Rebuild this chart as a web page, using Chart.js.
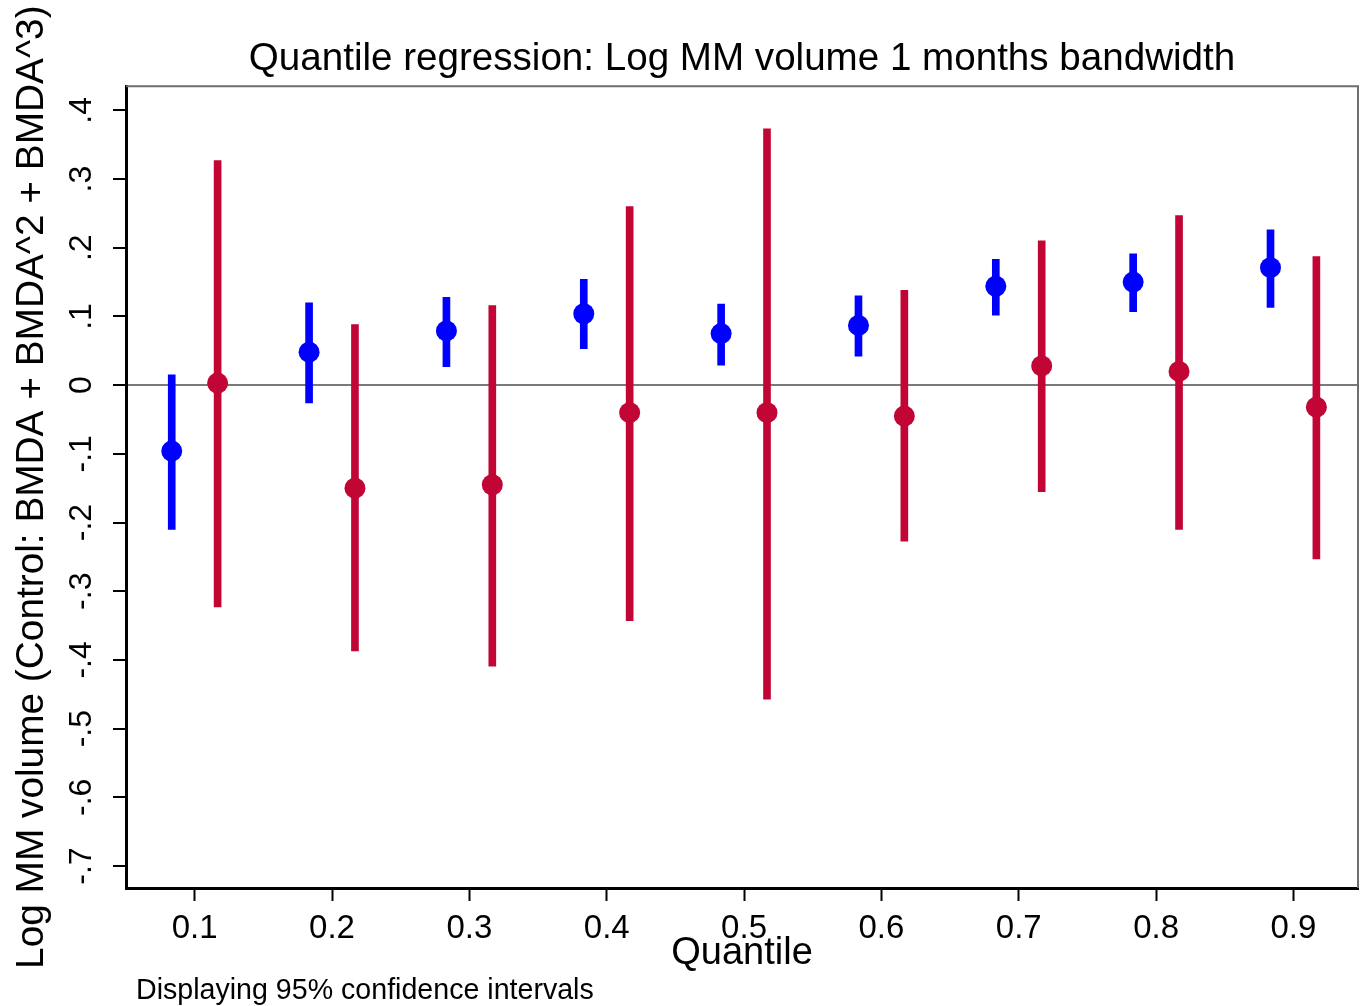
<!DOCTYPE html>
<html>
<head>
<meta charset="utf-8">
<script src="https://cdn.jsdelivr.net/npm/chart.js@4.4.1/dist/chart.umd.min.js"></script>
<style>
  html, body { margin: 0; padding: 0; background: #ffffff; }
  #wrap { width: 1361px; height: 1006px; position: relative; background: #ffffff; }
</style>
</head>
<body>
<div id="wrap"><canvas id="chart" width="1361" height="1006"></canvas></div>
<script>
// ---- Data ----
const quantiles = [0.1, 0.2, 0.3, 0.4, 0.5, 0.6, 0.7, 0.8, 0.9];

const blueEstimate = [-0.096, 0.048, 0.079, 0.104, 0.075, 0.087, 0.144, 0.150, 0.171];
const blueLower    = [-0.210, -0.026, 0.027, 0.053, 0.029, 0.042, 0.102, 0.107, 0.113];
const blueUpper    = [0.015, 0.120, 0.128, 0.154, 0.118, 0.130, 0.183, 0.191, 0.226];

const redEstimate = [0.003, -0.150, -0.145, -0.040, -0.040, -0.045, 0.028, 0.020, -0.032];
const redLower    = [-0.323, -0.387, -0.409, -0.343, -0.457, -0.227, -0.155, -0.210, -0.253];
const redUpper    = [0.327, 0.088, 0.116, 0.260, 0.373, 0.138, 0.210, 0.247, 0.187];

const xTickValues = [0.1, 0.2, 0.3, 0.4, 0.5, 0.6, 0.7, 0.8, 0.9];
const xTickLabels = ['0.1', '0.2', '0.3', '0.4', '0.5', '0.6', '0.7', '0.8', '0.9'];
const yTickValues = [-0.7, -0.6, -0.5, -0.4, -0.3, -0.2, -0.1, 0, 0.1, 0.2, 0.3, 0.4];
const yTickLabels = ['-.7', '-.6', '-.5', '-.4', '-.3', '-.2', '-.1', '0', '.1', '.2', '.3', '.4'];

const chartTitle = 'Quantile regression: Log MM volume 1 months bandwidth';
const xAxisTitle = 'Quantile';
const yAxisTitle = 'Log MM volume (Control: BMDA + BMDA^2 + BMDA^3)';
const footnote = 'Displaying 95% confidence intervals';

// ---- Styles ----
const FONT = '"Liberation Sans", Arial, Helvetica, sans-serif';
const BLUE = '#0000ff';
const RED = '#c10535';
const SERIES_OFFSET = 0.0167;

Chart.defaults.font.family = FONT;
Chart.defaults.color = '#000000';

const blueX = quantiles.map(q => q - SERIES_OFFSET);
const redX = quantiles.map(q => q + SERIES_OFFSET);

const framePlugin = {
  id: 'frame',
  beforeDatasetsDraw(chart) {
    const { ctx, chartArea: a } = chart;
    ctx.save();
    ctx.strokeStyle = '#6e6e6e';
    ctx.lineWidth = 2;
    ctx.beginPath();
    ctx.moveTo(a.left, a.top);
    ctx.lineTo(a.right, a.top);
    ctx.lineTo(a.right, a.bottom);
    ctx.stroke();
    ctx.restore();
  }
};

const extraTextPlugin = {
  id: 'extraText',
  afterDraw(chart) {
    const { ctx, chartArea: a } = chart;
    ctx.save();
    ctx.fillStyle = '#000000';
    // y-axis title (rotated)
    ctx.font = '38.8px ' + FONT;
    ctx.translate(32, (a.top + a.bottom) / 2);
    ctx.rotate(-Math.PI / 2);
    ctx.textAlign = 'center';
    ctx.textBaseline = 'middle';
    ctx.fillText(yAxisTitle, 0, 0);
    ctx.restore();
    // footnote
    ctx.save();
    ctx.fillStyle = '#000000';
    ctx.font = '28.6px ' + FONT;
    ctx.textAlign = 'left';
    ctx.textBaseline = 'alphabetic';
    ctx.fillText(footnote, 136, 999);
    ctx.restore();
  }
};

new Chart(document.getElementById('chart'), {
  type: 'bar',
  data: {
    datasets: [
      {
        type: 'scatter',
        label: 'Blue estimate',
        data: blueX.map((x, i) => ({ x: x, y: blueEstimate[i] })),
        backgroundColor: BLUE,
        borderColor: BLUE,
        pointRadius: 10.5,
        pointBorderWidth: 0,
        order: 0
      },
      {
        type: 'scatter',
        label: 'Red estimate',
        data: redX.map((x, i) => ({ x: x, y: redEstimate[i] })),
        backgroundColor: RED,
        borderColor: RED,
        pointRadius: 10.5,
        pointBorderWidth: 0,
        order: 0
      },
      {
        type: 'bar',
        label: 'Blue 95% CI',
        data: blueX.map((x, i) => ({ x: x, y: [blueLower[i], blueUpper[i]] })),
        backgroundColor: BLUE,
        borderWidth: 0,
        barThickness: 7,
        grouped: false,
        order: 1
      },
      {
        type: 'bar',
        label: 'Red 95% CI',
        data: redX.map((x, i) => ({ x: x, y: [redLower[i], redUpper[i]] })),
        backgroundColor: RED,
        borderWidth: 0,
        barThickness: 7,
        grouped: false,
        order: 1
      }
    ]
  },
  options: {
    responsive: false,
    animation: false,
    events: [],
    layout: { autoPadding: false, padding: { left: 0, right: 3, top: 0, bottom: 0 } },
    scales: {
      x: {
        type: 'linear',
        min: 0.05,
        max: 0.947,
        offset: false,
        afterBuildTicks: s => { s.ticks = xTickValues.map(v => ({ value: v })); },
        afterFit: s => { s.height = 118; },
        ticks: {
          callback: (v, i) => xTickLabels[i],
          autoSkip: false,
          minRotation: 0,
          maxRotation: 0,
          padding: 8,
          color: '#000000',
          font: { size: 33 }
        },
        grid: {
          offset: false,
          drawOnChartArea: false,
          drawTicks: true,
          tickLength: 13,
          tickColor: '#000000',
          tickWidth: 2,
          color: '#000000'
        },
        border: { display: true, color: '#000000', width: 3 },
        title: {
          display: true,
          text: xAxisTitle,
          color: '#000000',
          font: { size: 38 },
          padding: { top: 0, bottom: 30 }
        }
      },
      y: {
        type: 'linear',
        min: -0.732,
        max: 0.435,
        afterBuildTicks: s => { s.ticks = yTickValues.map(v => ({ value: v })); },
        afterFit: s => { s.width = 126; },
        ticks: {
          callback: (v, i) => yTickLabels[i],
          autoSkip: false,
          minRotation: 90,
          maxRotation: 90,
          crossAlign: 'center',
          padding: 12,
          color: '#000000',
          font: { size: 32 }
        },
        grid: {
          offset: false,
          drawOnChartArea: true,
          drawTicks: true,
          tickLength: 13,
          tickColor: '#000000',
          tickWidth: 2,
          color: c => (c.tick && c.tick.value === 0) ? '#7a7a7a' : 'rgba(0,0,0,0)',
          lineWidth: c => (c.tick && c.tick.value === 0) ? 2 : 0
        },
        border: { display: true, color: '#000000', width: 3 },
        title: { display: false }
      }
    },
    plugins: {
      legend: { display: false },
      tooltip: { enabled: false },
      title: {
        display: true,
        text: chartTitle,
        fullSize: false,
        color: '#000000',
        font: { size: 38.6, weight: 'normal' },
        padding: { top: 36, bottom: 4 }
      }
    }
  },
  plugins: [framePlugin, extraTextPlugin]
});
</script>
</body>
</html>
